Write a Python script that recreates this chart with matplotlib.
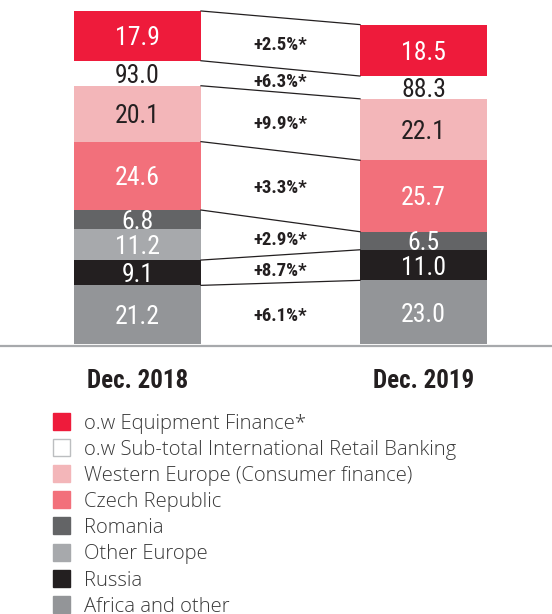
import matplotlib
matplotlib.use("Agg")
import matplotlib.pyplot as plt
from matplotlib import font_manager
from matplotlib.patches import Rectangle

# ---- data ----
years = ["Dec. 2018", "Dec. 2019"]
segments = ["Africa and other", "Russia", "Other Europe", "Romania",
            "Czech Republic", "Western Europe (Consumer finance)"]
values_2018 = [21.2, 9.1, 11.2, 6.8, 24.6, 20.1]
values_2019 = [23.0, 11.0, 0.0, 6.5, 25.7, 22.1]
subtotal = [93.0, 88.3]
equipment = [17.9, 18.5]
# growth per band, bottom to top (Other Europe + Romania share one band)
growth = ["+6.1%*", "+8.7%*", "+2.9%*", "+3.3%*", "+9.9%*", "+6.3%*", "+2.5%*"]

# ---- style ----
seg_colors = ["#939598", "#231F20", "#A7A9AC", "#636466", "#F2707B", "#F3B6B9"]
seg_text = ["white", "white", "white", "white", "white", "#231F20"]
equip_color = "#EE1B3B"
dark = "#231F20"
gap = [9.0, 8.2]          # blank room for the sub-total label
width = 0.444
px_per_unit = 2.78


def pick(cands, fallback):
    names = {f.name for f in font_manager.fontManager.ttflist}
    for c in cands:
        if c in names:
            return c
    return fallback


narrow = pick(["Roboto Condensed", "Archivo Narrow", "Pragati Narrow",
               "PT Sans Narrow", "Liberation Sans Narrow"], "DejaVu Sans")
stretch = "condensed" if narrow == "DejaVu Sans" else "normal"
light = pick(["Open Sans", "Roboto"], "DejaVu Sans")
NARROW = dict(family=narrow, fontstretch=stretch)

fig = plt.figure(figsize=(5.52, 6.14), dpi=100)
base = 344.3
ax = fig.add_axes([0, (614 - base) / 614, 1, base / 614])
ax.set_xlim(-137.5 / 286, (552 - 137.5) / 286)
ax.set_ylim(0, base / px_per_unit)

bounds = []
for i, vals in enumerate([values_2018, values_2019]):
    bottom = 0.0
    b = [0.0]
    for v, c, tc in zip(vals, seg_colors, seg_text):
        if v > 0:
            ax.bar(i, v, width, bottom=bottom, color=c, linewidth=0)
            ax.text(i, bottom + v / 2, f"{v:.1f}", ha="center", va="center_baseline",
                    color=tc, fontsize=18.5, **NARROW)
        bottom += v
        b.append(bottom)
    # sub-total label in the blank band
    ax.text(i, bottom + gap[i] / 2, f"{subtotal[i]:.1f}", ha="center", va="center_baseline",
            color=dark, fontsize=18.5, **NARROW)
    top = bottom + gap[i]
    ax.bar(i, equipment[i], width, bottom=top, color=equip_color, linewidth=0)
    ax.text(i, top + equipment[i] / 2, f"{equipment[i]:.1f}", ha="center",
            va="center_baseline", color="white", fontsize=18.5, **NARROW)
    b.append(top)
    b.append(top + equipment[i])
    bounds.append(b)

# boundaries joined between the bars (skip Other Europe / Romania split)
keep = [0, 1, 2, 4, 5, 6, 7, 8]
left = [bounds[0][k] for k in keep]
right = [bounds[1][k] for k in keep]
x0, x1 = width / 2, 1 - width / 2
for yl, yr in zip(left[1:], right[1:]):
    ax.plot([x0, x1], [yl, yr], color=dark, lw=0.9)
for j, g in enumerate(growth):
    ymid = ((left[j] + left[j + 1]) / 2 + (right[j] + right[j + 1]) / 2) / 2
    ax.text(0.5, ymid, g, ha="center", va="center_baseline", color=dark,
            fontsize=13.5, fontweight="semibold", **NARROW)

ax.axhline(-0.6, color="#A7A9AC", lw=1.6, clip_on=False)
ax.set_xticks([0, 1], years)
ax.tick_params(length=0, pad=18)
for lab in ax.get_xticklabels():
    lab.set_fontsize(18)
    lab.set_fontweight("bold")
    lab.set_family(narrow)
    lab.set_fontstretch(stretch)
    lab.set_color(dark)
ax.set_yticks([])
for s in ax.spines.values():
    s.set_visible(False)

# ---- legend ----
lax = fig.add_axes([0, 0, 1, 1])
lax.set_xlim(0, 552)
lax.set_ylim(614, 0)
lax.axis("off")
leg_labels = ["o.w Equipment Finance*", "o.w Sub-total International Retail Banking"] + segments[::-1]
leg_colors = [equip_color, "white"] + seg_colors[::-1]
for k, (lab, col) in enumerate(zip(leg_labels, leg_colors)):
    yc = 421 + k * 26.2
    lax.add_patch(Rectangle((52.5, yc - 8.5), 17, 17, facecolor=col,
                            edgecolor="#BCBEC0" if col == "white" else col, lw=1))
    lax.text(84, yc, lab, ha="left", va="center_baseline", fontsize=14.6,
             family=light, fontweight="light", color="#3A3A3A")

fig.savefig("out.png", dpi=100)
